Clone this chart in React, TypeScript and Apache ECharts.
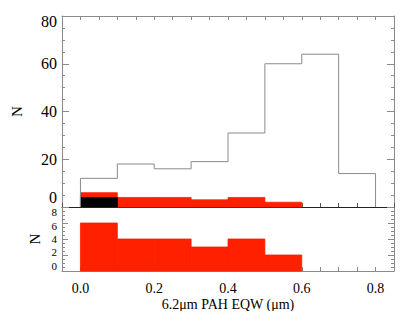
import React, { useEffect, useRef } from "react";
import * as echarts from "echarts";

const binStarts = [0.0, 0.1, 0.2, 0.3, 0.4, 0.5, 0.6, 0.7];
const binWidth = 0.1;
const allCounts = [12, 18, 16, 19, 31, 60, 64, 14];
const redCounts = [6, 4, 4, 3, 4, 2];
const blackCounts = [4];
const xTickLabels = ["0.0", "0.2", "0.4", "0.6", "0.8"];
const lowerYTicks = [0, 2, 4, 6, 8];

const FONT = "'Liberation Serif', 'DejaVu Serif', 'Times New Roman', serif";
const RED = "#ff2000";
const GRAY = "#8a8a8a";

function outlineData() {
  const pts: number[][] = [];
  binStarts.forEach((s, i) => {
    const prev = i === 0 ? 0 : allCounts[i - 1];
    pts.push([s, prev]);
    pts.push([s, allCounts[i]]);
  });
  const last = binStarts[binStarts.length - 1] + binWidth;
  pts.push([last, allCounts[allCounts.length - 1]]);
  pts.push([last, 0]);
  return pts;
}

function barData(counts: number[]) {
  return counts.map((c, i) => [binStarts[i], binStarts[i] + binWidth, c]);
}

function rectItem(color: string) {
  return (params: any, api: any) => {
    const p0 = api.coord([api.value(0), api.value(2)]);
    const p1 = api.coord([api.value(1), 0]);
    return {
      type: "rect",
      shape: { x: p0[0], y: p0[1], width: p1[0] - p0[0], height: p1[1] - p0[1] },
      style: { fill: color, stroke: color, lineWidth: 0.8 },
    };
  };
}

export default function App() {
  const ref = useRef<HTMLDivElement>(null);
  useEffect(() => {
    const chart = echarts.init(ref.current!, null, { renderer: "svg" });
    const xBase = {
      type: "value",
      min: -0.05,
      max: 0.85,
      interval: 0.05,
      splitLine: { show: false },
      axisLine: { show: true, onZero: false, lineStyle: { color: GRAY, width: 1 } },
      axisTick: { show: true, inside: true, length: 4, lineStyle: { color: GRAY } },
      axisLabel: { show: false },
    };
    const yTick = (major: number) => ({
      splitLine: { show: false },
      axisLine: { show: true, onZero: false, lineStyle: { color: GRAY } },
      axisTick: { show: true, inside: true, length: major, lineStyle: { color: GRAY } },
      minorTick: { show: true, splitNumber: 4, length: 3, lineStyle: { color: GRAY } },
    });
    const option: any = {
      animation: false,
      backgroundColor: "#ffffff",
      grid: [
        { left: 62, top: 16, width: 332, height: 191 },
        { left: 62, top: 207, width: 332, height: 64 },
      ],
      xAxis: [
        { ...xBase, gridIndex: 0, position: "top" },
        {
          ...xBase,
          gridIndex: 0,
          position: "bottom",
          axisLine: { show: true, onZero: false, lineStyle: { color: "#222", width: 1 } },
          axisTick: { show: true, inside: true, length: 4, lineStyle: { color: "#555" } },
        },
        { ...xBase, gridIndex: 1, position: "top", axisLine: { show: false, onZero: false }, axisTick: { show: false } },
        {
          ...xBase,
          gridIndex: 1,
          position: "bottom",
          name: "6.2μm PAH EQW (μm)",
          nameLocation: "middle",
          nameGap: 26,
          nameTextStyle: { fontFamily: FONT, fontSize: 14, color: "#000" },
          axisLabel: {
            show: true,
            interval: 0,
            margin: 10,
            fontFamily: FONT,
            fontSize: 14,
            color: "#000",
            showMinLabel: true,
            showMaxLabel: true,
            formatter: (v: number) => {
              const r = Math.round(v * 100);
              if (r >= 0 && r % 20 === 0) return xTickLabels[r / 20] ?? "";
              return "";
            },
          },
        },
      ],
      yAxis: [
        {
          type: "value",
          gridIndex: 0,
          position: "left",
          min: 0,
          max: 80,
          interval: 20,
          name: "N",
          nameLocation: "middle",
          nameGap: 38,
          nameTextStyle: { fontFamily: FONT, fontSize: 15, color: "#000" },
          ...yTick(7),
          axisLabel: {
            show: true,
            interval: 0,
            margin: 5,
            fontFamily: FONT,
            fontSize: 16,
            lineHeight: 11,
            color: "#000",
            showMinLabel: true,
            showMaxLabel: true,
            verticalAlignMaxLabel: "top",
            verticalAlignMinLabel: "bottom",
            formatter: (v: number) => (v === 0 ? "{z|0}\n{s|}" : String(v)),
            rich: {
              z: { fontFamily: FONT, fontSize: 16, lineHeight: 11, color: "#000" },
              s: { fontSize: 4, lineHeight: 4 },
            },
          },
        },
        {
          type: "value",
          gridIndex: 0,
          position: "right",
          min: 0,
          max: 80,
          interval: 20,
          ...yTick(7),
          axisLabel: { show: false },
        },
        {
          type: "value",
          gridIndex: 1,
          position: "left",
          min: 0,
          max: 8,
          interval: 2,
          name: "N",
          nameLocation: "middle",
          nameGap: 20,
          nameTextStyle: { fontFamily: FONT, fontSize: 15, color: "#000" },
          ...yTick(6),
          axisLabel: { show: false },
        },
        {
          type: "value",
          gridIndex: 1,
          position: "right",
          min: 0,
          max: 8,
          interval: 2,
          ...yTick(6),
          axisLabel: { show: false },
        },
      ],
      series: [
        {
          type: "custom",
          xAxisIndex: 1,
          yAxisIndex: 0,
          renderItem: rectItem(RED),
          data: barData(redCounts),
          encode: { x: [0, 1], y: 2 },
        },
        {
          type: "custom",
          xAxisIndex: 1,
          yAxisIndex: 0,
          renderItem: rectItem("#000000"),
          data: barData(blackCounts),
          encode: { x: [0, 1], y: 2 },
        },
        {
          type: "line",
          xAxisIndex: 1,
          yAxisIndex: 0,
          data: outlineData(),
          symbol: "none",
          lineStyle: { color: GRAY, width: 1 },
          z: 3,
        },
        {
          type: "custom",
          xAxisIndex: 3,
          yAxisIndex: 2,
          renderItem: rectItem(RED),
          data: barData(redCounts),
          encode: { x: [0, 1], y: 2 },
        },
      ],
    };
    chart.setOption(option);

    // lower-panel y tick labels, positioned through the axis scale,
    // squeezed slightly toward the panel centre as in the reference
    const px = (v: number) =>
      chart.convertToPixel({ xAxisIndex: 3, yAxisIndex: 2 }, [-0.05, v]) as number[];
    const midY = px(lowerYTicks[Math.floor(lowerYTicks.length / 2)])[1];
    const labels = lowerYTicks.map((v) => {
      const p = px(v);
      return {
        type: "text",
        x: p[0] - 5,
        y: p[1] + (midY - p[1]) * 0.16,
        style: {
          text: String(v),
          fontFamily: FONT,
          fontSize: 11,
          fill: "#000",
          align: "right",
          verticalAlign: "middle",
        },
      };
    });
    chart.setOption({ graphic: labels });
    return () => chart.dispose();
  }, []);
  return <div ref={ref} style={{ width: 415, height: 319, margin: -8 }} />;
}
